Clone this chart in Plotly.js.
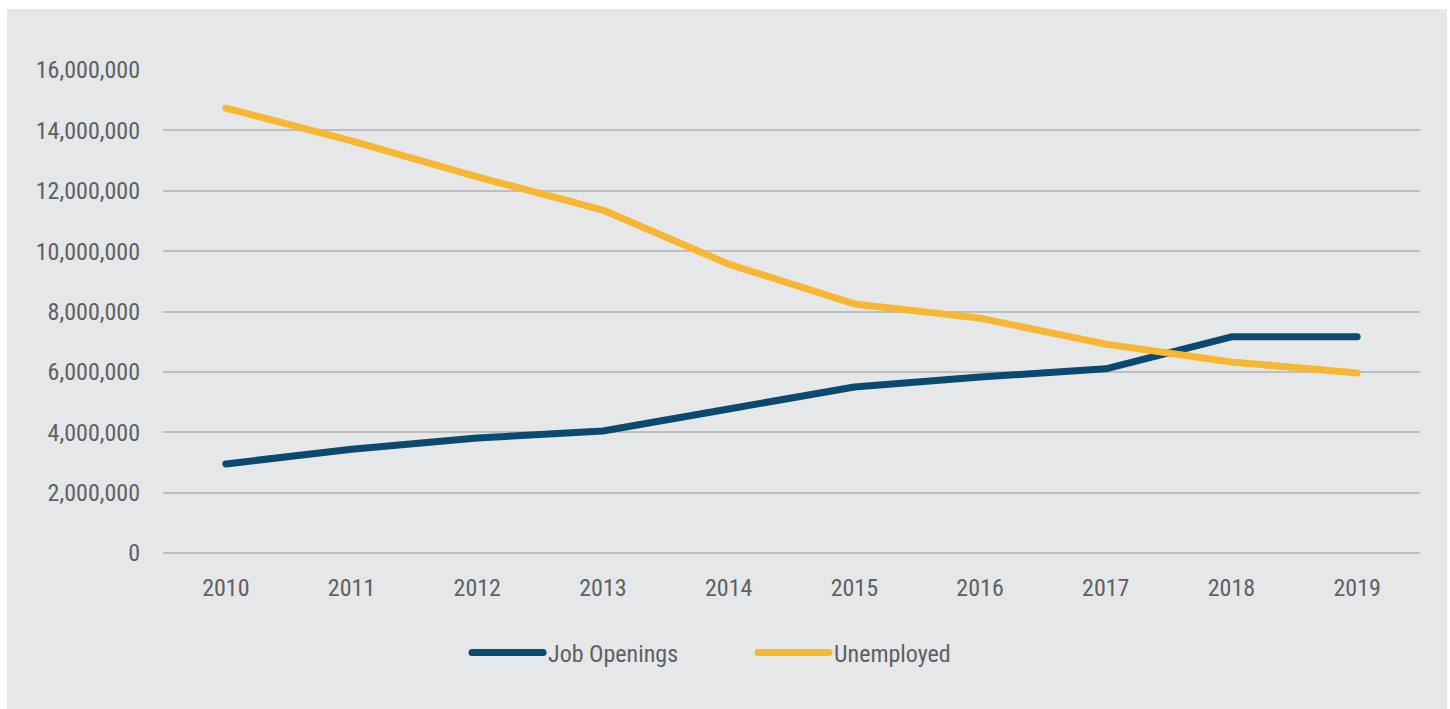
<!DOCTYPE html>
<html>
<head>
<meta charset="utf-8">
<script src="https://cdn.plot.ly/plotly-3.0.1.min.js"></script>
<style>
  html, body { margin: 0; padding: 0; background: #ffffff; width: 1450px; height: 709px; overflow: hidden; }
  #chart { position: absolute; left: 7px; top: 9px; width: 1440px; height: 700px; }
  .js-line { stroke-linecap: round; stroke-linejoin: round; }
</style>
</head>
<body>
<div id="chart"></div>
<script>
const years = ["2010","2011","2012","2013","2014","2015","2016","2017","2018","2019"];
const jobOpenings = [2950000, 3440000, 3810000, 4040000, 4770000, 5500000, 5830000, 6100000, 7160000, 7160000];
const unemployed = [14740000, 13650000, 12460000, 11360000, 9570000, 8250000, 7780000, 6920000, 6330000, 5960000];
const yTicks = [0, 2000000, 4000000, 6000000, 8000000, 10000000, 12000000, 14000000, 16000000];

const FONT = "'Roboto Condensed', 'Liberation Sans Narrow', 'Arial Narrow', Roboto, sans-serif";
const TXT = "#5f6062";
const FS = 24;

const traces = [
  { x: years, y: jobOpenings, name: "Job Openings", type: "scatter", mode: "lines",
    line: { color: "#0b4a70", width: 7 }, hoverinfo: "skip" },
  { x: years, y: unemployed, name: "Unemployed", type: "scatter", mode: "lines",
    line: { color: "#f7b733", width: 7 }, hoverinfo: "skip" }
];

const layout = {
  width: 1440, height: 700,
  paper_bgcolor: "#e6e7e9", plot_bgcolor: "#e6e7e9",
  margin: { l: 156, r: 27, t: 61, b: 156 },
  font: { family: FONT, color: TXT, size: FS },
  showlegend: true,
  legend: { orientation: "h", x: 0.2419, xanchor: "left", y: -0.207, yanchor: "middle",
            font: { family: FONT, color: TXT, size: 24 }, itemwidth: 71, entrywidth: 200, entrywidthmode: "pixels",
            tracegroupgap: 0, bgcolor: "rgba(0,0,0,0)" },
  xaxis: { type: "category", range: [-0.5, 9.5], showgrid: false, zeroline: false, showline: false,
           ticks: "", tickfont: { family: FONT, color: TXT, size: FS }, ticklabelstandoff: 18 },
  yaxis: { range: [0, 16000000], tickvals: yTicks, tickformat: ",d", showgrid: true, gridcolor: "#bfbfbf", gridwidth: 2,
           zeroline: true, zerolinecolor: "#bfbfbf", zerolinewidth: 2, showline: false, ticks: "",
           tickfont: { family: FONT, color: TXT, size: FS }, ticklabelstandoff: 22 }
};

Plotly.newPlot("chart", traces, layout, { displayModeBar: false, staticPlot: true });
</script>
</body>
</html>
